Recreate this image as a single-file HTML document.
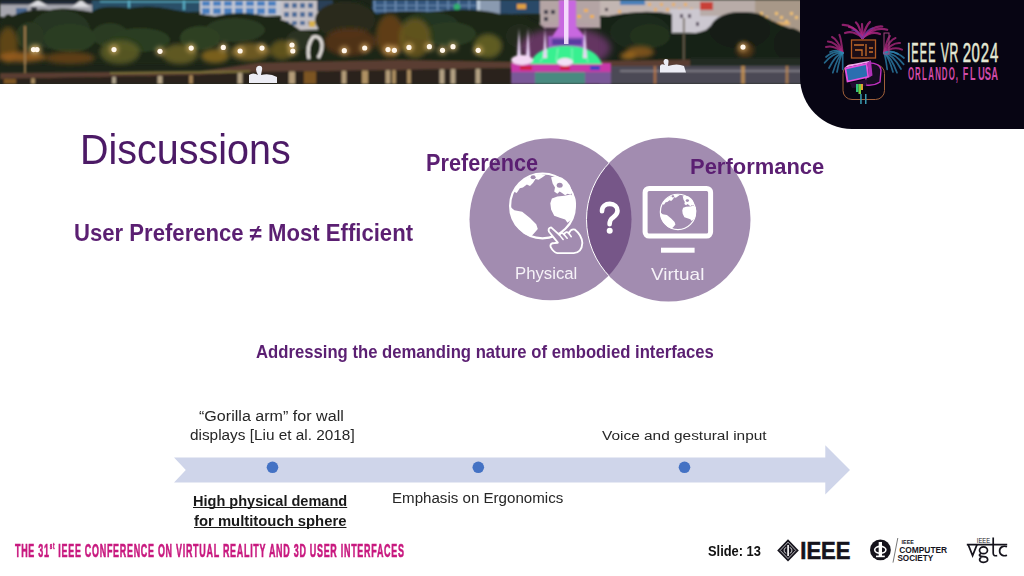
<!DOCTYPE html>
<html><head><meta charset="utf-8">
<style>
html,body{margin:0;padding:0;}
body{width:1024px;height:576px;position:relative;overflow:hidden;background:#fff;font-family:"Liberation Sans",sans-serif;}
.t{position:absolute;white-space:nowrap;line-height:1;transform-origin:0 0;}
.b{font-weight:bold;}
#photo{position:absolute;left:0;top:0;width:1024px;height:84px;}
#panel{position:absolute;left:800px;top:0;width:224px;height:129px;background:#070513;border-bottom-left-radius:52px;}
</style></head><body>
<svg id="photo" width="1024" height="84" viewBox="0 0 1024 84">
<defs><filter id="bl1" x="-5%" y="-20%" width="110%" height="140%"><feGaussianBlur stdDeviation="0.9"/></filter><filter id="bl2" x="-50%" y="-50%" width="200%" height="200%"><feGaussianBlur stdDeviation="2.2"/></filter><filter id="bl3" x="-50%" y="-50%" width="200%" height="200%"><feGaussianBlur stdDeviation="3.5"/></filter></defs>
<rect width="1024" height="84" fill="#1c2418"/>
<g filter="url(#bl1)"><rect x="0" y="0" width="92" height="17" fill="#a6a6ae"/><rect x="0" y="0" width="92" height="4.5" fill="#1e2535"/><polygon points="28,6 38,0 48,6" fill="#dcdce0"/><polygon points="72,7 81,0 90,7" fill="#dcdce0"/><rect x="16" y="8" width="11" height="7" fill="#4a6890"/><rect x="31" y="7" width="6" height="10" fill="#30343c"/><rect x="92" y="0" width="110" height="12" fill="#2a5068"/><rect x="100" y="1" width="100" height="1.2" fill="#5ab0c8"/><rect x="128" y="0" width="2" height="10" fill="#5ab0c8"/><rect x="183" y="0" width="2" height="10" fill="#5ab0c8"/><rect x="200" y="0" width="82" height="16" fill="#c4c8d2"/><rect x="202" y="1" width="8" height="5" fill="#4a80c0"/><rect x="202" y="8" width="8" height="6" fill="#4a80c0"/><rect x="213" y="1" width="8" height="5" fill="#4a80c0"/><rect x="213" y="8" width="8" height="6" fill="#4a80c0"/><rect x="224" y="1" width="8" height="5" fill="#4a80c0"/><rect x="224" y="8" width="8" height="6" fill="#4a80c0"/><rect x="235" y="1" width="8" height="5" fill="#4a80c0"/><rect x="235" y="8" width="8" height="6" fill="#4a80c0"/><rect x="246" y="1" width="8" height="5" fill="#4a80c0"/><rect x="246" y="8" width="8" height="6" fill="#4a80c0"/><rect x="257" y="1" width="8" height="5" fill="#4a80c0"/><rect x="257" y="8" width="8" height="6" fill="#4a80c0"/><rect x="268" y="1" width="8" height="5" fill="#4a80c0"/><rect x="268" y="8" width="8" height="6" fill="#4a80c0"/><rect x="281" y="0" width="37" height="30" fill="#c4c0c4"/><rect x="284" y="3" width="5" height="5" fill="#4a6a98"/><rect x="284" y="12" width="5" height="5" fill="#4a6a98"/><rect x="284" y="21" width="5" height="4" fill="#4a6a98"/><rect x="292" y="3" width="5" height="5" fill="#4a6a98"/><rect x="292" y="12" width="5" height="5" fill="#4a6a98"/><rect x="292" y="21" width="5" height="4" fill="#4a6a98"/><rect x="300" y="3" width="5" height="5" fill="#4a6a98"/><rect x="300" y="12" width="5" height="5" fill="#4a6a98"/><rect x="300" y="21" width="5" height="4" fill="#4a6a98"/><rect x="308" y="3" width="5" height="5" fill="#4a6a98"/><rect x="308" y="12" width="5" height="5" fill="#4a6a98"/><rect x="308" y="21" width="5" height="4" fill="#4a6a98"/><rect x="309" y="21" width="6" height="6" fill="#d8b048"/><rect x="317" y="0" width="16" height="11" fill="#2c4058"/><rect x="372" y="0" width="108" height="15" fill="#34567e"/><rect x="374.0" y="0" width="1.2" height="15" fill="#7a9ac0"/><rect x="384.5" y="0" width="1.2" height="15" fill="#7a9ac0"/><rect x="395.0" y="0" width="1.2" height="15" fill="#7a9ac0"/><rect x="405.5" y="0" width="1.2" height="15" fill="#7a9ac0"/><rect x="416.0" y="0" width="1.2" height="15" fill="#7a9ac0"/><rect x="426.5" y="0" width="1.2" height="15" fill="#7a9ac0"/><rect x="437.0" y="0" width="1.2" height="15" fill="#7a9ac0"/><rect x="447.5" y="0" width="1.2" height="15" fill="#7a9ac0"/><rect x="458.0" y="0" width="1.2" height="15" fill="#7a9ac0"/><rect x="468.5" y="0" width="1.2" height="15" fill="#7a9ac0"/><rect x="374" y="5" width="106" height="1" fill="#6a8ab0"/><rect x="374" y="10" width="106" height="1" fill="#6a8ab0"/><rect x="477" y="0" width="23" height="15" fill="#8a9ab0"/><rect x="477" y="0" width="3" height="15" fill="#c0d0e0"/><circle cx="457" cy="7" r="3.2" fill="#30b070"/><rect x="500" y="0" width="42" height="14" fill="#2a4a68"/><rect x="517" y="4" width="9" height="5" fill="#e0a040"/><rect x="540" y="0" width="60" height="28" fill="#b4a4a4"/><rect x="544" y="10" width="4" height="4" fill="#3a3a48"/><rect x="551" y="10" width="4" height="4" fill="#3a3a48"/><rect x="544" y="17" width="4" height="4" fill="#3a3a48"/><rect x="584" y="9" width="4" height="3" fill="#f0b050"/><rect x="577" y="15" width="4" height="3" fill="#f0b050"/><rect x="590" y="15" width="4" height="3" fill="#f0b050"/><rect x="600" y="0" width="100" height="16" fill="#c2b6b2"/><rect x="620" y="0" width="25" height="5" fill="#4a80b8"/><rect x="648" y="3" width="3" height="3" fill="#e8b060"/><rect x="654" y="8" width="3" height="3" fill="#e8b060"/><rect x="660" y="3" width="3" height="3" fill="#e8b060"/><rect x="666" y="8" width="3" height="3" fill="#e8b060"/><rect x="672" y="3" width="3" height="3" fill="#e8b060"/><rect x="678" y="8" width="3" height="3" fill="#e8b060"/><rect x="684" y="3" width="3" height="3" fill="#e8b060"/><rect x="690" y="8" width="3" height="3" fill="#e8b060"/><rect x="605" y="8" width="3" height="3" fill="#3a3040"/><rect x="618" y="10" width="3" height="3" fill="#e8b060"/><rect x="670" y="9" width="55" height="24" fill="#ccc8d0"/><rect x="680" y="14" width="3" height="4" fill="#5a5060"/><rect x="688" y="14" width="3" height="4" fill="#5a5060"/><rect x="696" y="22" width="3" height="4" fill="#5a5060"/><rect x="700" y="0" width="102" height="16" fill="#b8aca8"/><rect x="700" y="2" width="13" height="8" fill="#c84038"/><rect x="755" y="0" width="47" height="32" fill="#a89888"/><rect x="760" y="22" width="30" height="3" fill="#e0b070"/><rect x="760" y="12" width="3" height="3" fill="#f0c070"/><rect x="765" y="16" width="3" height="3" fill="#f0c070"/><rect x="770" y="20" width="3" height="3" fill="#f0c070"/><rect x="775" y="12" width="3" height="3" fill="#f0c070"/><rect x="780" y="16" width="3" height="3" fill="#f0c070"/><rect x="785" y="20" width="3" height="3" fill="#f0c070"/><rect x="790" y="12" width="3" height="3" fill="#f0c070"/><rect x="795" y="16" width="3" height="3" fill="#f0c070"/><path d="M0,24 Q6,10 12,16 Q30,8 50,10 Q62,6 92,12 Q100,4 130,8 Q150,4 175,10 Q200,14 215,16 Q240,10 265,16 Q285,18 300,30 L320,32 Q330,6 350,2 Q368,0 376,14 Q400,10 430,12 Q470,6 500,14 Q525,12 545,28 L545,64 L0,64 Z" fill="#1c2618"/><path d="M600,18 Q640,8 672,14 L672,34 Q690,36 706,30 Q730,6 760,14 Q780,26 802,32 L802,64 L600,64 Z" fill="#172016"/><ellipse cx="60" cy="30" rx="30" ry="20" fill="#263620"/><ellipse cx="150" cy="25" rx="35" ry="18" fill="#1c2619"/><ellipse cx="235" cy="30" rx="30" ry="12" fill="#2c3a22"/><ellipse cx="345" cy="20" rx="30" ry="18" fill="#2a2c1c"/><ellipse cx="430" cy="26" rx="30" ry="14" fill="#243420"/><ellipse cx="480" cy="30" rx="25" ry="16" fill="#1c2818"/><ellipse cx="640" cy="32" rx="30" ry="18" fill="#1e2a1b"/><ellipse cx="740" cy="30" rx="30" ry="18" fill="#131b13"/><ellipse cx="790" cy="44" rx="16" ry="16" fill="#161e15"/><ellipse cx="110" cy="35" rx="18" ry="12" fill="#2a3a21"/><ellipse cx="300" cy="40" rx="14" ry="10" fill="#2a3020"/><ellipse cx="520" cy="36" rx="14" ry="12" fill="#222c1d"/><ellipse cx="70" cy="38" rx="26" ry="14" fill="#2c3e22"/><ellipse cx="140" cy="40" rx="30" ry="12" fill="#2a3c20"/><ellipse cx="200" cy="38" rx="20" ry="12" fill="#2e4024"/><ellipse cx="450" cy="34" rx="26" ry="12" fill="#2a3a20"/><ellipse cx="650" cy="36" rx="20" ry="12" fill="#22321e"/><ellipse cx="30" cy="36" rx="14" ry="14" fill="#2a3820"/><g filter="url(#bl2)"><ellipse cx="8" cy="45" rx="10" ry="18" fill="#6a4a1a" opacity="0.85"/><ellipse cx="22" cy="57" rx="24" ry="5" fill="#a0601e" opacity="0.85"/><ellipse cx="70" cy="58" rx="25" ry="6" fill="#6a4218" opacity="0.85"/><ellipse cx="120" cy="52" rx="20" ry="12" fill="#5e5e26" opacity="0.85"/><ellipse cx="180" cy="54" rx="18" ry="10" fill="#6a6024" opacity="0.85"/><ellipse cx="215" cy="56" rx="14" ry="7" fill="#8a6a22" opacity="0.85"/><ellipse cx="250" cy="52" rx="20" ry="9" fill="#7a6024" opacity="0.85"/><ellipse cx="282" cy="50" rx="12" ry="10" fill="#6a5a20" opacity="0.85"/><ellipse cx="350" cy="42" rx="26" ry="14" fill="#5a3414" opacity="0.85"/><ellipse cx="390" cy="36" rx="14" ry="22" fill="#6a4218" opacity="0.85"/><ellipse cx="415" cy="38" rx="16" ry="20" fill="#6a5820" opacity="0.85"/><ellipse cx="488" cy="46" rx="14" ry="12" fill="#6a6424" opacity="0.85"/><ellipse cx="640" cy="52" rx="14" ry="6" fill="#8a5a1e" opacity="0.85"/><ellipse cx="628" cy="56" rx="8" ry="4" fill="#a06a20" opacity="0.85"/><ellipse cx="745" cy="50" rx="9" ry="8" fill="#5a3a14" opacity="0.85"/></g><rect x="24" y="26" width="2" height="48" fill="#9a7848"/><rect x="683" y="18" width="1.6" height="44" fill="#6a6050"/><path d="M309,59 Q306,46 313,37 Q321,35 322,45 Q322,52 318,58" fill="none" stroke="#e0dcd8" stroke-width="3.2"/><path d="M0,73 L200,71 L258,63 L400,60 L520,62 L600,61 L802,58 L802,66 L600,66 L520,68 L400,70 L258,72 L200,75 L0,79 Z" fill="#5a3e30"/><path d="M110,72 L250,70.5 L250,72.5 L110,74 Z" fill="#7a7038"/><path d="M690,58 L802,58 L802,66 L690,66 Z" fill="#222a20"/><path d="M0,79 L200,75 L258,72 L400,70 L520,68 L600,66 L802,66 L802,84 L0,84 Z" fill="#2a241c"/><path d="M600,66 L802,66 L802,84 L600,84 Z" fill="#4c4a54"/><rect x="620" y="70" width="182" height="2" fill="#7a7882"/><rect x="4.0" y="78.8" width="12.0" height="5.2" fill="#a06a28" opacity="0.7"/><rect x="31.2" y="78.3" width="3.5999999999999996" height="5.7" fill="#e8c080" opacity="0.7"/><rect x="112.2" y="76.7" width="3.5999999999999996" height="7.3" fill="#f0e0c0" opacity="0.7"/><rect x="157.6" y="75.8" width="4.8" height="8.2" fill="#f0d8b0" opacity="0.7"/><rect x="189.2" y="75.2" width="3.5999999999999996" height="8.8" fill="#e0b070" opacity="0.7"/><rect x="237.6" y="72.9" width="4.8" height="11.1" fill="#f0d8b0" opacity="0.7"/><rect x="289.0" y="71.5" width="6.0" height="12.5" fill="#f0d0a0" opacity="0.7"/><rect x="304.0" y="71.3" width="12.0" height="12.7" fill="#a06a28" opacity="0.7"/><rect x="341.6" y="70.8" width="4.8" height="13.2" fill="#f0d0a0" opacity="0.7"/><rect x="362.0" y="70.5" width="6.0" height="13.5" fill="#e8c080" opacity="0.7"/><rect x="385.6" y="70.2" width="4.8" height="13.8" fill="#f0d0a0" opacity="0.7"/><rect x="392.2" y="70.1" width="3.5999999999999996" height="13.9" fill="#e8c080" opacity="0.7"/><rect x="407.2" y="69.8" width="3.5999999999999996" height="14.2" fill="#e8c080" opacity="0.7"/><rect x="439.6" y="69.3" width="4.8" height="14.7" fill="#f0d8b0" opacity="0.7"/><rect x="450.6" y="69.1" width="4.8" height="14.9" fill="#f0d8b0" opacity="0.7"/><rect x="475.6" y="68.7" width="4.8" height="15.3" fill="#f0d8b0" opacity="0.7"/><rect x="653.8" y="66.0" width="2.4" height="18.0" fill="#d08040" opacity="0.7"/><rect x="741.2" y="66.0" width="3.5999999999999996" height="18.0" fill="#e0a050" opacity="0.7"/><rect x="785.8" y="66.0" width="2.4" height="18.0" fill="#d09050" opacity="0.7"/></g>
<g filter="url(#bl2)"><circle cx="33.5" cy="49.6" r="5" fill="#f8c878" opacity="0.5"/><circle cx="37" cy="49.6" r="5" fill="#f8c878" opacity="0.5"/><circle cx="114" cy="49.6" r="5" fill="#f8c878" opacity="0.5"/><circle cx="160" cy="51.3" r="5" fill="#f8c878" opacity="0.5"/><circle cx="191.2" cy="48.1" r="5" fill="#f8c878" opacity="0.5"/><circle cx="223.3" cy="47.4" r="5" fill="#f8c878" opacity="0.5"/><circle cx="240.1" cy="51" r="5" fill="#f8c878" opacity="0.5"/><circle cx="262" cy="48.1" r="5" fill="#f8c878" opacity="0.5"/><circle cx="292" cy="45" r="5" fill="#f8c878" opacity="0.5"/><circle cx="292.8" cy="51" r="5" fill="#f8c878" opacity="0.5"/><circle cx="344.3" cy="50.7" r="5" fill="#f8c878" opacity="0.5"/><circle cx="364.7" cy="48" r="5" fill="#f8c878" opacity="0.5"/><circle cx="388" cy="49.6" r="5" fill="#f8c878" opacity="0.5"/><circle cx="394.4" cy="50.3" r="5" fill="#f8c878" opacity="0.5"/><circle cx="409" cy="47.4" r="5" fill="#f8c878" opacity="0.5"/><circle cx="429.4" cy="46.7" r="5" fill="#f8c878" opacity="0.5"/><circle cx="442.5" cy="50.3" r="5" fill="#f8c878" opacity="0.5"/><circle cx="453" cy="46.7" r="5" fill="#f8c878" opacity="0.5"/><circle cx="478.2" cy="50.3" r="5" fill="#f8c878" opacity="0.5"/><circle cx="743" cy="47.1" r="5" fill="#f8c878" opacity="0.5"/></g>
<circle cx="33.5" cy="49.6" r="2.6" fill="#fff6ea"/>
<circle cx="37" cy="49.6" r="2.6" fill="#fff6ea"/>
<circle cx="114" cy="49.6" r="2.6" fill="#fff6ea"/>
<circle cx="160" cy="51.3" r="2.6" fill="#fff6ea"/>
<circle cx="191.2" cy="48.1" r="2.6" fill="#fff6ea"/>
<circle cx="223.3" cy="47.4" r="2.6" fill="#fff6ea"/>
<circle cx="240.1" cy="51" r="2.6" fill="#fff6ea"/>
<circle cx="262" cy="48.1" r="2.6" fill="#fff6ea"/>
<circle cx="292" cy="45" r="2.6" fill="#fff6ea"/>
<circle cx="292.8" cy="51" r="2.6" fill="#fff6ea"/>
<circle cx="344.3" cy="50.7" r="2.6" fill="#fff6ea"/>
<circle cx="364.7" cy="48" r="2.6" fill="#fff6ea"/>
<circle cx="388" cy="49.6" r="2.6" fill="#fff6ea"/>
<circle cx="394.4" cy="50.3" r="2.6" fill="#fff6ea"/>
<circle cx="409" cy="47.4" r="2.6" fill="#fff6ea"/>
<circle cx="429.4" cy="46.7" r="2.6" fill="#fff6ea"/>
<circle cx="442.5" cy="50.3" r="2.6" fill="#fff6ea"/>
<circle cx="453" cy="46.7" r="2.6" fill="#fff6ea"/>
<circle cx="478.2" cy="50.3" r="2.6" fill="#fff6ea"/>
<circle cx="743" cy="47.1" r="2.6" fill="#fff6ea"/>
<g filter="url(#bl3)"><ellipse cx="565" cy="48" rx="46" ry="20" fill="#d050d0" opacity="0.4"/></g>
<g filter="url(#bl1)"><rect x="511" y="63" width="100" height="9" fill="#c838a8"/><rect x="520" y="66" width="12" height="4" fill="#d02040"/><rect x="560" y="66" width="10" height="4" fill="#d02040"/><rect x="590" y="66" width="10" height="4" fill="#3040c0"/><rect x="548" y="36" width="37" height="12" fill="#9a58c0"/><rect x="552" y="39" width="30" height="6" fill="#5a3aa0"/><path d="M530,64 Q536,46 566,46 Q596,46 602,64 Z" fill="#38f090"/><path d="M540,62 L548,50 M556,62 L558,48 M572,62 L572,48 M588,62 L584,50" stroke="#90f8c0" stroke-width="1"/><path d="M552,37 L559,26 L559,0 L576,0 L576,26 L585,37 Z" fill="#c868e0"/><path d="M517,58 L519,28 L521,58 Z" fill="#ecd8fa"/><path d="M526,58 L528,28 L530,58 Z" fill="#ecd8fa"/><path d="M543,58 L545,28 L547,58 Z" fill="#ecd8fa"/><path d="M583,58 L585,28 L587,58 Z" fill="#ecd8fa"/><ellipse cx="522" cy="60" rx="11" ry="5" fill="#f4d8f4"/><ellipse cx="565" cy="62" rx="8" ry="4" fill="#f4e0f8"/><rect x="511" y="72" width="100" height="12" fill="#7a5898"/><rect x="535" y="72" width="50" height="12" fill="#4a8a80"/></g>
<rect x="564" y="0" width="4.5" height="44" fill="#f8e4ff" opacity="0.9"/>
<path d="M249,83 L249,75 Q253,72 258,75 Q254,68 258,66 Q263,65 262,70 L261,75 Q270,73 277,77 L277,83 Z" fill="#ececf4"/>
<path d="M660,72.5 L660,66 Q661,63 665,65 Q662,61 665,59 Q669,58.5 668.5,62 L668,66 Q677,63 684,66 L686,72.5 Z" fill="#ececf4"/>
</svg>
<div id="panel"></div>
<svg id="panelsvg" style="position:absolute;left:0;top:0" width="1024" height="130"><defs><filter id="pbl" x="-20%" y="-20%" width="140%" height="140%"><feGaussianBlur stdDeviation="0.5"/></filter></defs>
<g transform="translate(0,62.1) scale(0.4,1)"><text x="2268.25 2278.33 2299.42 2320.50" y="0" font-family="Liberation Sans" font-weight="normal" font-size="27.18" fill="#e4e8d4" stroke="#e4e8d4" stroke-width="0.6">IEEE</text></g>
<g transform="translate(0,62.1) scale(0.45,1)"><text x="2090.67 2109.89" y="0" font-family="Liberation Sans" font-weight="normal" font-size="27.18" fill="#e4e8d4" stroke="#e4e8d4" stroke-width="0.6">VR</text></g>
<g transform="translate(0,62.1) scale(0.55,1)"><text x="1750.64 1766.45 1783.27 1800.09" y="0" font-family="Liberation Sans" font-weight="normal" font-size="27.18" fill="#e4e8d4" stroke="#e4e8d4" stroke-width="0.6">2024</text></g>
<g transform="translate(0,80.1) scale(0.42,1)"><text x="2162.14 2178.80 2195.46 2210.12 2226.78 2242.44 2259.10 2275.76" y="0" font-family="Liberation Sans" font-weight="bold" font-size="18.75" fill="#d04aa8">ORLANDO,</text></g>
<g transform="translate(0,80.1) scale(0.48,1)"><text x="2005.67 2020.67" y="0" font-family="Liberation Sans" font-weight="bold" font-size="18.75" fill="#d04aa8">FL</text></g>
<g transform="translate(0,80.1) scale(0.5,1)"><text x="1955.80 1969.70 1982.60" y="0" font-family="Liberation Sans" font-weight="bold" font-size="18.75" fill="#d04aa8">USA</text></g>
<g filter="url(#pbl)" fill="none" stroke-linecap="round">
<path d="M862.5,38 Q852.6,24.3 842.7,24.9" stroke="#b82888" stroke-width="2.2" opacity="0.75"/>
<path d="M862.5,38 Q855.8,27.3 849,27" stroke="#b82888" stroke-width="2.2" opacity="0.75"/>
<path d="M862.5,38 Q859.2,25.1 855.9,22.4" stroke="#b82888" stroke-width="2.2" opacity="0.75"/>
<path d="M862.5,38 Q862.2,26.8 862,24" stroke="#b82888" stroke-width="2.2" opacity="0.75"/>
<path d="M862.5,38 Q866.2,24.7 870,22" stroke="#b82888" stroke-width="2.2" opacity="0.75"/>
<path d="M862.5,38 Q872.4,25.4 882.3,26.5" stroke="#b82888" stroke-width="2.2" opacity="0.75"/>
<path d="M862.5,38 Q874.9,26.1 887.2,29.8" stroke="#b82888" stroke-width="2.2" opacity="0.75"/>
<path d="M862.5,38 Q853.8,30.0 845,33" stroke="#b82888" stroke-width="2.2" opacity="0.75"/>
<path d="M862.5,38 Q871.2,30.6 880,34" stroke="#b82888" stroke-width="2.2" opacity="0.75"/>
<path d="M862.5,38 Q857.2,30.0 852,30" stroke="#6a3aa0" stroke-width="1.6" opacity="0.75"/>
<path d="M862.5,38 Q867.8,28.6 873,28" stroke="#6a3aa0" stroke-width="1.6" opacity="0.75"/>
<path d="M842.7,52.9 Q835.3,41.5 827.9,41.4" stroke="#b02880" stroke-width="2" opacity="0.75"/>
<path d="M842.7,52.9 Q837.4,39.2 832,37" stroke="#b02880" stroke-width="2" opacity="0.75"/>
<path d="M842.7,52.9 Q841.0,38.3 839.4,34.8" stroke="#b02880" stroke-width="2" opacity="0.75"/>
<path d="M842.7,52.9 Q834.4,44.6 826,47" stroke="#b02880" stroke-width="2" opacity="0.75"/>
<path d="M842.7,52.9 Q833.7,51.7 824.6,62.8" stroke="#2f86b0" stroke-width="1.7" opacity="0.75"/>
<path d="M842.7,52.9 Q834.4,49.8 826,57" stroke="#2f86b0" stroke-width="1.7" opacity="0.75"/>
<path d="M842.7,52.9 Q837.8,56.2 832.8,72.7" stroke="#2f86b0" stroke-width="1.7" opacity="0.75"/>
<path d="M842.7,52.9 Q835.9,54.3 829,68" stroke="#2f86b0" stroke-width="1.7" opacity="0.75"/>
<path d="M842.7,52.9 Q842.7,56.2 842.7,69.4" stroke="#2f86b0" stroke-width="1.7" opacity="0.75"/>
<path d="M842.7,52.9 Q839.9,56.5 837,72" stroke="#2f86b0" stroke-width="1.7" opacity="0.75"/>
<path d="M842.7,52.9 Q836.4,48.6 830,52" stroke="#2f86b0" stroke-width="1.7" opacity="0.75"/>
<path d="M883.9,52.9 Q893.0,45.7 902,49.6" stroke="#b02880" stroke-width="2" opacity="0.75"/>
<path d="M883.9,52.9 Q889.7,39.8 895.5,38" stroke="#b02880" stroke-width="2" opacity="0.75"/>
<path d="M883.9,52.9 Q892.0,42.3 900,43" stroke="#b02880" stroke-width="2" opacity="0.75"/>
<path d="M883.9,52.9 Q887.0,39.1 890,36" stroke="#b02880" stroke-width="2" opacity="0.75"/>
<path d="M883.9,52.9 Q893.8,51.8 903.7,64.4" stroke="#2f86b0" stroke-width="1.7" opacity="0.75"/>
<path d="M883.9,52.9 Q894.0,49.2 904,58" stroke="#2f86b0" stroke-width="1.7" opacity="0.75"/>
<path d="M883.9,52.9 Q890.5,55.7 897,72.7" stroke="#2f86b0" stroke-width="1.7" opacity="0.75"/>
<path d="M883.9,52.9 Q892.5,53.9 901,69" stroke="#2f86b0" stroke-width="1.7" opacity="0.75"/>
<path d="M883.9,52.9 Q885.5,56.1 887.2,69.4" stroke="#2f86b0" stroke-width="1.7" opacity="0.75"/>
<path d="M883.9,52.9 Q888.5,56.1 893,72" stroke="#2f86b0" stroke-width="1.7" opacity="0.75"/>
<path d="M883.9,52.9 Q891.0,49.2 898,54" stroke="#2f86b0" stroke-width="1.7" opacity="0.75"/>
</g><g filter="url(#pbl)">
<rect x="851.5" y="40" width="24" height="18" fill="#1a0e14" stroke="#b05a24" stroke-width="1.3"/>
<path d="M854,45 L864,45 M855,50 L862,50 L862,56 M866,44 L866,56 M869,48 L873,48 M869,52 L873,52" stroke="#c8702c" stroke-width="1.3" fill="none"/>
<rect x="884" y="33" width="5" height="21" fill="none" stroke="#a04080" stroke-width="1"/>
<rect x="843" y="64.5" width="41.5" height="35" rx="9" fill="none" stroke="#a0603a" stroke-width="1"/>
<path d="M866,63 Q880,62 881,70 L880,82 Q874,86 866,85 Z" fill="#140a20" stroke="#c030c0" stroke-width="1.4"/>
<polygon points="844.4,67.7 867.4,62.8 871,60.5 848,65" fill="#f0a8f0"/>
<polygon points="867.4,62.8 871,60.5 872.5,75.5 869.1,77.6" fill="#b030b8"/>
<polygon points="844.4,67.7 867.4,62.8 869.1,77.6 846.8,82.6" fill="#e850e0"/>
<polygon points="846.4,69.2 865.8,65 867.3,76.2 848.3,80.6" fill="#2a6eb0"/>
<path d="M850,83 L868,79 L866,86 L852,88 Z" fill="#241030"/>
<rect x="856" y="84" width="2.5" height="8" fill="#30c080"/><rect x="858.5" y="84" width="2.5" height="10" fill="#70d040"/><rect x="861" y="84" width="2" height="6" fill="#e0a030"/>
<rect x="860.2" y="94" width="1.5" height="10" fill="#3a9ab0"/><rect x="865" y="94" width="1.5" height="10" fill="#3a9ab0"/>
</g>
</svg>

<svg id="venn" style="position:absolute;left:0;top:0" width="1024" height="576">
  <defs>
    <clipPath id="cl"><circle cx="550.5" cy="219.3" r="81"/></clipPath>
  </defs>
  <circle cx="550.5" cy="219.3" r="81" fill="#a28cb0"/>
  <circle cx="668.5" cy="219.5" r="82" fill="#a28cb0"/>
  <g clip-path="url(#cl)">
    <circle cx="668.5" cy="219.5" r="82" fill="#765688" stroke="#fff" stroke-width="1"/>
  </g>
</svg>

<svg id="icons" style="position:absolute;left:0;top:0" width="1024" height="576">
<defs><g id="globe">
<circle cx="0" cy="0" r="32.4" fill="none" stroke="#fff" stroke-width="2.2"/>
<polygon points="9.38,-7.43 14.84,-9.46 21.88,-10.09 28.12,-11.34 32.50,-8.99 33.59,-1.96 32.03,7.41 28.91,13.66 25.00,16.79 22.66,13.66 17.19,11.79 11.72,9.76 8.59,3.51 7.81,-2.74" fill="#fff"/>
<polygon points="8.59,-28.53 14.06,-29.78 19.53,-28.21 24.22,-24.62 27.34,-20.71 29.69,-14.46 28.12,-11.34 25.00,-12.12 22.66,-10.56 19.53,-12.90 17.19,-14.46 14.84,-12.12 11.72,-14.46 12.50,-18.37 10.16,-22.28" fill="#fff"/>
<polygon points="-28.91,-14.46 -25.00,-20.71 -18.75,-26.18 -10.94,-30.09 -1.56,-31.96 3.12,-30.87 0.00,-28.53 -3.91,-26.18 -7.03,-26.96 -9.38,-23.06 -12.50,-19.93 -15.62,-21.49 -19.53,-18.37 -22.66,-17.59 -25.78,-12.90" fill="#fff"/>
<polygon points="-32.03,1.16 -28.12,4.29 -20.31,5.85 -12.50,12.10 -6.25,18.35 -4.69,23.04 -8.59,27.72 -11.72,30.85 -18.75,27.72 -26.56,19.91 -31.25,10.54" fill="#fff"/>
<ellipse cx="17.19" cy="-20.71" rx="3" ry="2.5" fill="#a28cb0"/>
<ellipse cx="-9.38" cy="-28.53" rx="2.5" ry="2" fill="#a28cb0"/>
</g></defs>
<use href="#globe" transform="translate(542.5,205.9)"/>
<path d="M549.06,231.75 Q547.50,228.16 551.09,227.38 L559.38,234.88 Q561.56,231.28 564.06,234.41 Q566.25,230.50 568.75,233.31 Q571.41,228.16 575.00,229.72 Q581.88,235.19 582.34,243.00 Q581.88,252.38 573.75,253.16 L557.34,253.16 Q553.44,252.38 550.62,246.91 Q549.53,243.00 554.69,243.00 L557.81,242.69 Z" fill="#a28cb0" stroke="#fff" stroke-width="1.9" stroke-linejoin="round"/>
<path d="M559.38,234.88 L563.12,239.56 M564.06,234.41 L567.19,238.31 M568.75,233.31 L571.25,236.75" stroke="#fff" stroke-width="1.5" fill="none" stroke-linecap="round"/>
<rect x="645.1" y="188.4" width="65.5" height="47.7" rx="4" fill="none" stroke="#fff" stroke-width="5"/>
<rect x="661" y="247.7" width="33.6" height="5" fill="#fff"/>
<use href="#globe" transform="translate(678,211.9) scale(0.545)"/>
</svg>
<svg id="qmsvg" style="position:absolute;left:0;top:0" width="1024" height="576"><path d="M602,211.2 C602,206.4 605.4,203.9 609.8,203.9 C614.6,203.9 617.5,206.9 617.5,210.7 C617.5,214.6 614.6,216.2 612.3,218 C610.3,219.6 609.6,221.2 609.6,224.2" fill="none" stroke="#fff" stroke-width="4.6" stroke-linecap="round"/><circle cx="609.7" cy="230.8" r="3" fill="#fff"/></svg>

<svg id="arrow" style="position:absolute;left:0;top:0" width="1024" height="576">
  <polygon points="174,457.5 825.3,457.5 825.3,445.3 850,470 825.3,494.6 825.3,482.5 174,482.5 185.8,470" fill="#cfd5ea"/>
  <circle cx="272.5" cy="467.3" r="5.8" fill="#4472c4"/>
  <circle cx="478.3" cy="467.3" r="5.8" fill="#4472c4"/>
  <circle cx="684.5" cy="467.3" r="5.8" fill="#4472c4"/>
</svg>

<div class="t" id="disc" style="left:79.76px;top:127.68px;font-size:43.31px;color:#4c1a66;transform:scaleX(0.9119);">Discussions</div>
<div class="t b" id="upme" style="left:74.15px;top:221.69px;font-size:23.40px;color:#5b1f72;transform:scaleX(0.9454);">User Preference ≠ Most Efficient</div>
<div class="t b" id="pref" style="left:426.17px;top:151.74px;font-size:23.40px;color:#5b1f72;transform:scaleX(0.9265);">Preference</div>
<div class="t b" id="perf" style="left:690.33px;top:154.71px;font-size:22.67px;color:#5b1f72;transform:scaleX(0.9692);">Performance</div>
<div class="t" id="phys" style="left:515.41px;top:265.62px;font-size:16.86px;color:#f6f2f8;transform:scaleX(0.9929);">Physical</div>
<div class="t" id="virt" style="left:650.50px;top:265.51px;font-size:17.41px;color:#f6f2f8;transform:scaleX(1.0881);">Virtual</div>
<div class="t b" id="addr" style="left:255.90px;top:343.69px;font-size:17.73px;color:#5b1f72;transform:scaleX(0.9414);">Addressing the demanding nature of embodied interfaces</div>
<div class="t" id="gor1" style="left:199.10px;top:408.74px;font-size:14.24px;color:#262626;transform:scaleX(1.1300);">“Gorilla arm” for wall</div>
<div class="t" id="gor2" style="left:190.00px;top:427.72px;font-size:14.39px;color:#262626;transform:scaleX(1.0676);">displays [Liu et al. 2018]</div>
<div class="t" id="voice" style="left:601.50px;top:428.58px;font-size:13.67px;color:#262626;transform:scaleX(1.1290);">Voice and gestural input</div>
<div class="t" id="emph" style="left:392.28px;top:490.64px;font-size:14.83px;color:#262626;transform:scaleX(1.0185);">Emphasis on Ergonomics</div>
<div class="t b" id="high1" style="left:192.56px;top:492.64px;font-size:15.54px;color:#1a1a1a;transform:scaleX(0.9354);text-decoration:underline;text-decoration-skip-ink:none;">High physical demand</div>
<div class="t b" id="high2" style="left:193.50px;top:512.54px;font-size:15.54px;color:#1a1a1a;transform:scaleX(0.9550);text-decoration:underline;text-decoration-skip-ink:none;">for multitouch sphere</div>
<div class="t b" id="slide" style="left:708.00px;top:543.74px;font-size:14.54px;color:#111111;transform:scaleX(0.8847);">Slide: 13</div>

<svg id="logos" style="position:absolute;left:0;top:0" width="1024" height="576">
  <!-- IEEE diamond -->
  <polygon points="788,539.2 798.8,550.4 788,561.6 777.2,550.4" fill="#15131c"/>
  <polygon points="788,542.2 795.8,550.4 788,558.6 780.2,550.4" fill="none" stroke="#fff" stroke-width="0.7"/>
  <rect x="787.3" y="545" width="1.6" height="11" fill="#fff"/>
  <path d="M786.2,547.5 C783.5,548.2 783.5,552.6 786.2,553.3 M789.8,547.5 C792.5,548.2 792.5,552.6 789.8,553.3" fill="none" stroke="#fff" stroke-width="0.9"/>
  <text x="800.3" y="559" font-family="Liberation Sans" font-weight="bold" font-size="24.3" textLength="50.2" lengthAdjust="spacingAndGlyphs" fill="#15131c" stroke="#15131c" stroke-width="0.6">IEEE</text>
  <!-- Computer society -->
  <circle cx="880.4" cy="549.9" r="10.4" fill="#15131c"/>
  <ellipse cx="880.3" cy="549.8" rx="5.6" ry="3.4" fill="none" stroke="#fff" stroke-width="1.6"/>
  <rect x="878.7" y="542" width="3.3" height="14.5" fill="#fff"/>
  <rect x="876" y="555.6" width="8.8" height="1.6" fill="#fff"/>
  <line x1="897.8" y1="538" x2="893" y2="562.6" stroke="#555" stroke-width="0.8"/>
  <text x="901.6" y="543.8" font-family="Liberation Sans" font-weight="bold" font-size="4.8" textLength="12.2" lengthAdjust="spacingAndGlyphs" fill="#15131c">IEEE</text>
  <text x="899.2" y="552.9" font-family="Liberation Sans" font-weight="bold" font-size="8.3" textLength="48" lengthAdjust="spacingAndGlyphs" fill="#15131c">COMPUTER</text>
  <text x="897.4" y="561.2" font-family="Liberation Sans" font-weight="bold" font-size="8.9" textLength="35.8" lengthAdjust="spacingAndGlyphs" fill="#15131c">SOCIETY</text>
  <!-- vgtc -->
  <text x="976.8" y="543" font-family="Liberation Sans" font-size="6.8" textLength="13.4" lengthAdjust="spacingAndGlyphs" fill="#15131c">IEEE</text>
  <g fill="none" stroke="#15131c" stroke-width="1.7">
    <line x1="966.8" y1="544.6" x2="1007.2" y2="544.6"/>
    <path d="M968.2,544.6 L972.6,555.6 L977,544.6"/>
    <ellipse cx="983.5" cy="550.2" rx="4" ry="3.4"/>
    <path d="M981,553.6 C978,555 979.6,556.6 983.5,556.6 C988.6,556.6 989.4,562.3 983.6,562.3 C979.2,562.3 978.6,559 981.2,557.4"/>
    <path d="M993.2,537.6 L993.2,553.2 C993.2,555.6 994.8,555.9 997.2,555.7"/>
    <path d="M1007,546.8 C1003.5,545.4 999.6,547 999.6,551 C999.6,555 1003.6,556.6 1007,555.2"/>
  </g>
</svg>


<div class="t b" id="foot" style="left:14.5px;top:543.4px;font-size:17.9px;color:#c8197f;transform:scaleX(0.5);letter-spacing:1.45px;-webkit-text-stroke:0.6px #c8197f;">THE 31<span style="font-size:9px;position:relative;top:-1px;vertical-align:top;">st</span> IEEE CONFERENCE ON VIRTUAL REALITY AND 3D USER INTERFACES</div>

</body></html>
